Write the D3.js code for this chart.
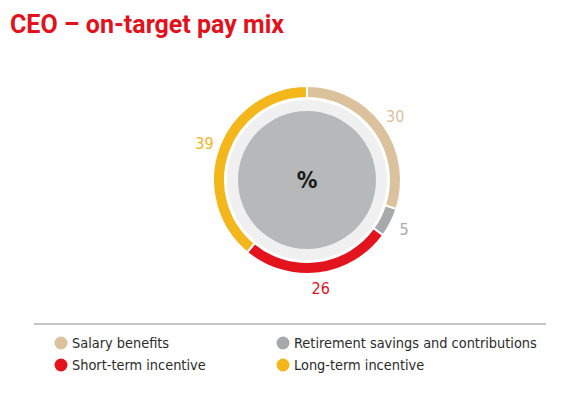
<!DOCTYPE html>
<html>
<head>
<meta charset="utf-8">
<script src="https://cdn.jsdelivr.net/npm/d3@7"></script>
<style>
  html, body { margin: 0; padding: 0; background: #fff; }
  svg { display: block; }
  text { font-family: "DejaVu Sans Condensed", Roboto, sans-serif; }
  .title { font-family: Roboto, sans-serif; }
</style>
</head>
<body>
<svg id="chart" width="581" height="398"></svg>
<script>
// chart data
const categories = ['Salary benefits', 'Retirement savings and contributions', 'Short-term incentive', 'Long-term incentive'];
const values = [30, 5, 26, 39];
const colors = ['#dbc19c', '#a8a9ab', '#e3141e', '#f3b61b'];
const title = 'CEO \u2013 on-target pay mix';
const centerLabel = '%';

const svg = d3.select('#chart');

// title
svg.append('text')
  .attr('class', 'title')
  .attr('x', 10)
  .attr('y', 33)
  .attr('fill', '#e2111c')
  .style('font-size', '25px')
  .style('font-weight', 'bold')
  .text(title);

// donut
const cx = 307, cy = 180;
const outerR = 94, innerR = 82;

const g = svg.append('g').attr('transform', `translate(${cx},${cy})`);

g.append('circle').attr('r', 80).attr('fill', '#f0f0f1');
g.append('circle').attr('r', 69).attr('fill', '#b7b8ba');

const pie = d3.pie().sort(null).value(d => d.value);
const data = categories.map((c, i) => ({ name: c, value: values[i], color: colors[i] }));
const arcs = pie(data);

const arc = d3.arc().innerRadius(innerR).outerRadius(outerR);
g.selectAll('path.seg')
  .data(arcs)
  .join('path')
  .attr('class', 'seg')
  .attr('d', arc)
  .attr('fill', d => d.data.color)
  .attr('stroke', '#fff')
  .attr('stroke-width', 2);

// value labels
const labelArc = d3.arc().innerRadius(109).outerRadius(109);
g.selectAll('text.val')
  .data(arcs)
  .join('text')
  .attr('class', 'val')
  .attr('transform', d => `translate(${labelArc.centroid(d)})`)
  .attr('text-anchor', 'middle')
  .attr('dy', '0.35em')
  .attr('fill', d => d.data.color)
  .style('font-size', '16px')
  .text(d => d.data.value);

g.append('text')
  .attr('text-anchor', 'middle')
  .attr('dy', '0.35em')
  .attr('fill', '#1a1a1a')
  .style('font-size', '23px')
  .style('font-weight', 'bold')
  .text(centerLabel);

// legend
svg.append('line')
  .attr('x1', 34).attr('x2', 546)
  .attr('y1', 324).attr('y2', 324)
  .attr('stroke', '#8a8a8a')
  .attr('stroke-width', 1.2);

const legendX = [61, 283];
const legendY = [343, 365];
const legend = svg.selectAll('g.leg')
  .data(data)
  .join('g')
  .attr('class', 'leg')
  .attr('transform', (d, i) => `translate(${legendX[i === 0 || i === 2 ? 0 : 1]},${legendY[i < 2 ? 0 : 1]})`);

legend.append('circle')
  .attr('r', 6.5)
  .attr('fill', d => d.color);

legend.append('text')
  .attr('x', 11)
  .attr('dy', '0.36em')
  .attr('fill', '#2b2b2b')
  .style('font-size', '14.4px')
  .text(d => d.name);
</script>
</body>
</html>
